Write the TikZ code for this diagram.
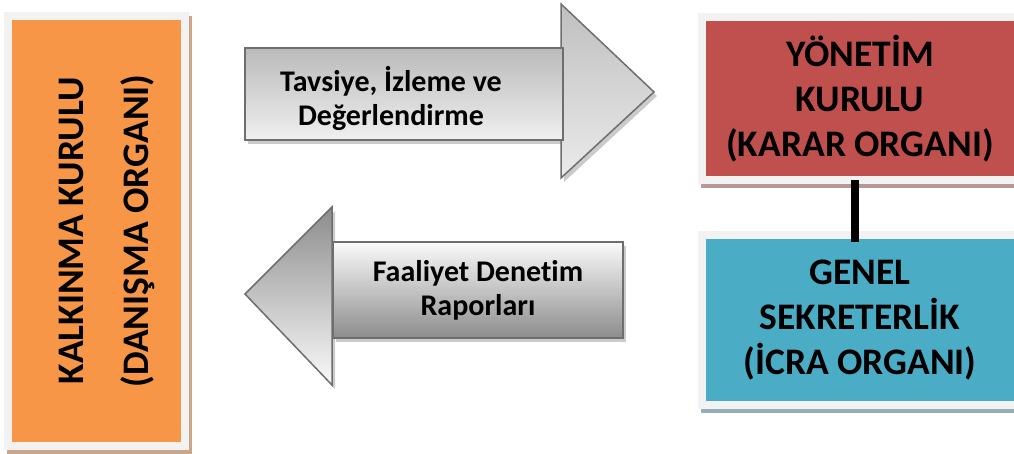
\documentclass[tikz,border=0pt]{standalone}
\usepackage{fontspec}
\setmainfont{Carlito}[Ligatures=NoCommon]
\definecolor{korange}{HTML}{F79646}
\definecolor{kred}{HTML}{C0504D}
\definecolor{kblue}{HTML}{4BACC6}
\definecolor{kframe}{HTML}{F2F2F2}
\definecolor{oshadow}{HTML}{C9A688}
\definecolor{rshadow}{HTML}{B89797}
\definecolor{bshadow}{HTML}{93AEB8}
\definecolor{aborder}{HTML}{6E6E6E}
\definecolor{ashadow}{HTML}{A8A8A8}
\begin{document}
\begin{tikzpicture}[x=1pt,y=-1pt,
  orgbox/.style={draw=kframe, line width=8pt, inner sep=0pt, outer sep=0pt,
    font=\bfseries\fontsize{37.5}{45}\selectfont, align=center},
  boxshadow/.style={preaction={draw=#1, fill=#1, line width=8pt,
    transform canvas={shift={(3pt,-4pt)}}}},
  arrowtext/.style={inner sep=0pt, align=center, font=\bfseries\fontsize{30}{34}\selectfont},
  arrowshape/.style={draw=aborder, line width=1.5pt, line join=miter},
  arrowshadow/.style={fill=ashadow, opacity=0.6, shift={(3,4)}}]
\useasboundingbox (0,0) rectangle (1014,454);
\clip (0,0) rectangle (1014,454);

% left box
\node[orgbox, fill=korange, boxshadow=oshadow, minimum width=177pt, minimum height=430pt] (kk) at (96.5,231) {};
\node[inner sep=0pt, align=center, rotate=90, font=\bfseries\fontsize{37.5}{65}\selectfont] (kktext) at (106.5,231) {KALKINMA KURULU\\(DANIŞMA ORGANI)};

% right boxes
\node[orgbox, fill=kred, boxshadow=rshadow, minimum width=316pt, minimum height=163pt] (yk) at (860,99) {YÖNETİM\\KURULU\\(KARAR ORGANI)};
\node[orgbox, fill=kblue, boxshadow=bshadow, minimum width=316pt, minimum height=170pt] (gs) at (860,320) {GENEL\\SEKRETERLİK\\(İCRA ORGANI)};
\draw[line width=8pt] ([shift={(-5,0)}]yk.south) -- ([shift={(-5,7)}]gs.north);

% upper arrow
\fill[arrowshadow] (561,4) -- (654,92) -- (561,178) -- cycle;
\fill[arrowshadow] (245,48) rectangle (563,140);
\shadedraw[arrowshape, top color=black!25, bottom color=black!8] (561,4) -- (654,92) -- (561,178) -- cycle;
\shadedraw[arrowshape, top color=black!27, bottom color=black!6] (245,48) rectangle (563,140);
\node[arrowtext] (t1) at (391,98) {Tavsiye, İzleme ve\\Değerlendirme};

% lower arrow
\fill[arrowshadow] (332,207) -- (245,294) -- (332,385) -- cycle;
\fill[arrowshadow] (333,242) rectangle (623,338);
\shadedraw[arrowshape, top color=black!45, bottom color=black!2] (332,207) -- (245,294) -- (332,385) -- cycle;
\shadedraw[arrowshape, top color=black!2, bottom color=black!45] (333,242) rectangle (623,338);
\node[arrowtext] (t2) at (478,290) {Faaliyet Denetim\\Raporları};
\end{tikzpicture}
\end{document}
